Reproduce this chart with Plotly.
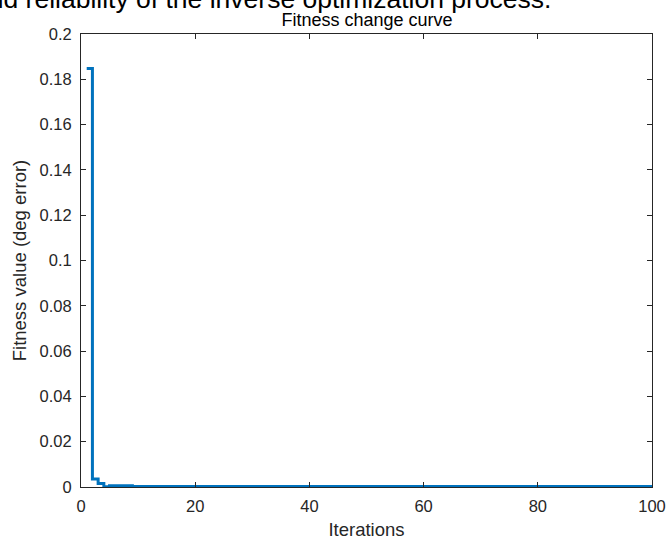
import plotly.graph_objects as go

# Data (stairs plot, 100 iterations)
iterations = list(range(1, 101))
fitness = [0.1848, 0.0035, 0.0016, 0.0001] + [0.0006] * 4 + [0.0002] * 92

x_ticks = [0, 20, 40, 60, 80, 100]
y_ticks = [0, 0.02, 0.04, 0.06, 0.08, 0.1, 0.12, 0.14, 0.16, 0.18, 0.2]
y_tick_text = ["0", "0.02", "0.04", "0.06", "0.08", "0.1", "0.12", "0.14", "0.16", "0.18", "0.2"]

FONT = "Liberation Sans, Arial, Helvetica, sans-serif"
AX = "#262626"

fig = go.Figure()
fig.add_trace(go.Scatter(
    x=iterations, y=fitness, mode="lines",
    line=dict(color="#0072BD", width=3, shape="hv"),
    showlegend=False,
))

axis_common = dict(
    showline=True, linecolor=AX, linewidth=1, mirror="ticks",
    ticks="inside", ticklen=5, tickcolor=AX, tickwidth=1,
    showgrid=False, zeroline=False, automargin=False,
    tickfont=dict(family=FONT, size=16.5, color=AX),
)

fig.update_layout(
    width=670, height=540,
    margin=dict(l=81, r=18, t=34, b=53),
    paper_bgcolor="white", plot_bgcolor="white",
    font=dict(family=FONT, color=AX),
    title=dict(text="Fitness change curve", x=367 / 670, xanchor="center",
               y=1 - 20 / 540, yanchor="middle",
               font=dict(family=FONT, size=18, color="#000000")),
    xaxis=dict(range=[0, 100], tickvals=x_ticks, ticktext=[str(v) for v in x_ticks],
               ticklabelstandoff=4,
               title=dict(text="Iterations", font=dict(family=FONT, size=18.5, color=AX), standoff=10),
               **axis_common),
    yaxis=dict(range=[0, 0.2], tickvals=y_ticks, ticktext=y_tick_text,
               ticklabelstandoff=5,
               title=dict(text="Fitness value (deg error)", font=dict(family=FONT, size=18.5, color=AX), standoff=8),
               **axis_common),
)

fig.add_annotation(
    text="and reliability of the inverse optimization process.",
    xref="paper", yref="paper", x=(553 - 81) / 571, y=1 + 35 / 453,
    xanchor="right", yanchor="middle", showarrow=False,
    font=dict(family=FONT, size=26.5, color="#000000"),
)

fig.write_html("out.html", config={"displayModeBar": False},
               post_script="document.body.style.margin='0px';")
